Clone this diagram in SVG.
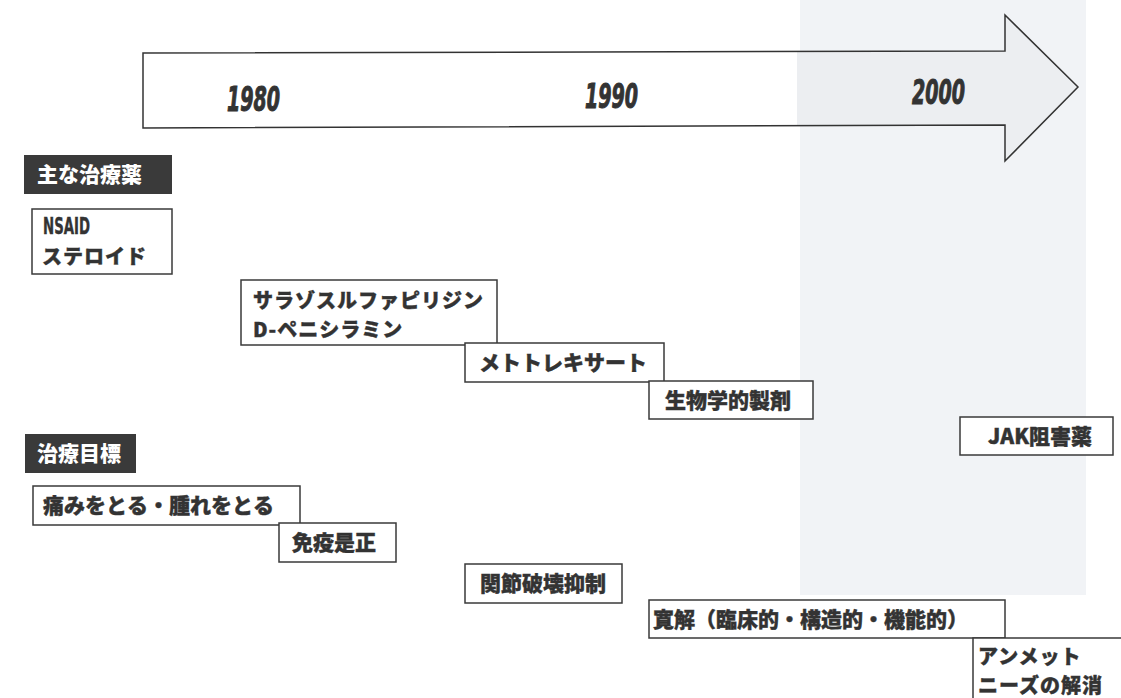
<svg xmlns="http://www.w3.org/2000/svg" width="1121" height="698" viewBox="0 0 1121 698">
  <defs>
    <linearGradient id="arrowFill" gradientUnits="userSpaceOnUse" x1="143" y1="0" x2="1078" y2="0">
      <stop offset="0" stop-color="#ffffff"/>
      <stop offset="0.70" stop-color="#ffffff"/>
      <stop offset="0.70" stop-color="#eceef1"/>
      <stop offset="1" stop-color="#eceef1"/>
    </linearGradient>
  </defs>
  <style>
    .box { fill: #ffffff; stroke: #3a3a3a; stroke-width: 1.5; }
    .head { fill: #3a3a3a; }
    .jp { font-family: "Noto Sans CJK JP", "Noto Sans", sans-serif; font-weight: 900; font-size: 21px; fill: #333333; stroke: #333333; stroke-width: 0.4; }
    .jp2 { font-family: "Noto Sans CJK JP", "Noto Sans", sans-serif; font-weight: 900; font-size: 20px; letter-spacing: 1px; fill: #333333; stroke: #333333; stroke-width: 0.4; }
    .hd { font-family: "Noto Sans CJK JP", "Noto Sans", sans-serif; font-weight: 900; font-size: 21px; fill: #ffffff; }
    .lat { font-family: "Liberation Sans Narrow", "DejaVu Sans Condensed", "Liberation Sans", sans-serif; font-weight: bold; font-size: 23px; fill: #333333; stroke: #333333; stroke-width: 0.4; }
    .year { font-family: "Liberation Sans Narrow", "DejaVu Sans Condensed", "Liberation Sans", sans-serif; font-weight: bold; font-style: italic; font-size: 33px; fill: #333333; stroke: #333333; stroke-width: 1; }
  </style>
  <rect x="0" y="0" width="1121" height="698" fill="#ffffff"/>
  <rect x="800" y="0" width="286" height="595" fill="#f1f3f6"/>

  <g id="timeline">
    <polygon points="143,53 1005,51 1005,15 1078,87 1005,161 1005,125 143,128" fill="url(#arrowFill)" stroke="#333333" stroke-width="1.5"/>
    <text class="year" x="227" y="111" textLength="53" lengthAdjust="spacingAndGlyphs">1980</text>
    <text class="year" x="585" y="108" textLength="53" lengthAdjust="spacingAndGlyphs">1990</text>
    <text class="year" x="912" y="104" textLength="53" lengthAdjust="spacingAndGlyphs">2000</text>
  </g>

  <g id="header-drugs">
    <rect class="head" x="24" y="155" width="148" height="39"/>
    <text class="hd" x="37" y="182">主な治療薬</text>
  </g>

  <g id="drug-nsaid">
    <rect class="box" x="32" y="209" width="140" height="65"/>
    <text class="lat" x="43" y="234" textLength="47" lengthAdjust="spacingAndGlyphs">NSAID</text>
    <text class="jp2" x="42" y="264">ステロイド</text>
  </g>

  <g id="drug-ssz">
    <rect class="box" x="241" y="280" width="256" height="65"/>
    <text class="jp2" x="253" y="308">サラゾスルファピリジン</text>
    <text class="jp2" x="253" y="337">D-ペニシラミン</text>
  </g>

  <g id="drug-mtx">
    <rect class="box" x="465" y="343" width="199" height="39"/>
    <text class="jp" x="479" y="370">メトトレキサート</text>
  </g>

  <g id="drug-bio">
    <rect class="box" x="649" y="381" width="164" height="38"/>
    <text class="jp" x="665" y="408">生物学的製剤</text>
  </g>

  <g id="drug-jak">
    <rect class="box" x="960" y="417" width="153" height="38"/>
    <text class="jp" x="988" y="444">JAK阻害薬</text>
  </g>

  <g id="header-goals">
    <rect class="head" x="25" y="434" width="111" height="39"/>
    <text class="hd" x="37" y="461">治療目標</text>
  </g>

  <g id="goal-pain">
    <rect class="box" x="33" y="486" width="267" height="39"/>
    <text class="jp" x="43" y="513">痛みをとる・腫れをとる</text>
  </g>

  <g id="goal-immune">
    <rect class="box" x="279" y="523" width="117" height="39"/>
    <text class="jp" x="292" y="550">免疫是正</text>
  </g>

  <g id="goal-joint">
    <rect class="box" x="465" y="564" width="157" height="39"/>
    <text class="jp" x="480" y="591">関節破壊抑制</text>
  </g>

  <g id="goal-remission">
    <rect class="box" x="649" y="600" width="356" height="38"/>
    <text class="jp" x="653" y="627">寛解（臨床的・構造的・機能的）</text>
  </g>

  <g id="goal-unmet">
    <rect class="box" x="973" y="638" width="160" height="70"/>
    <text class="jp2" x="978" y="664">アンメット</text>
    <text class="jp2" x="978" y="693">ニーズの解消</text>
  </g>

  <g id="connectors"></g>
</svg>
